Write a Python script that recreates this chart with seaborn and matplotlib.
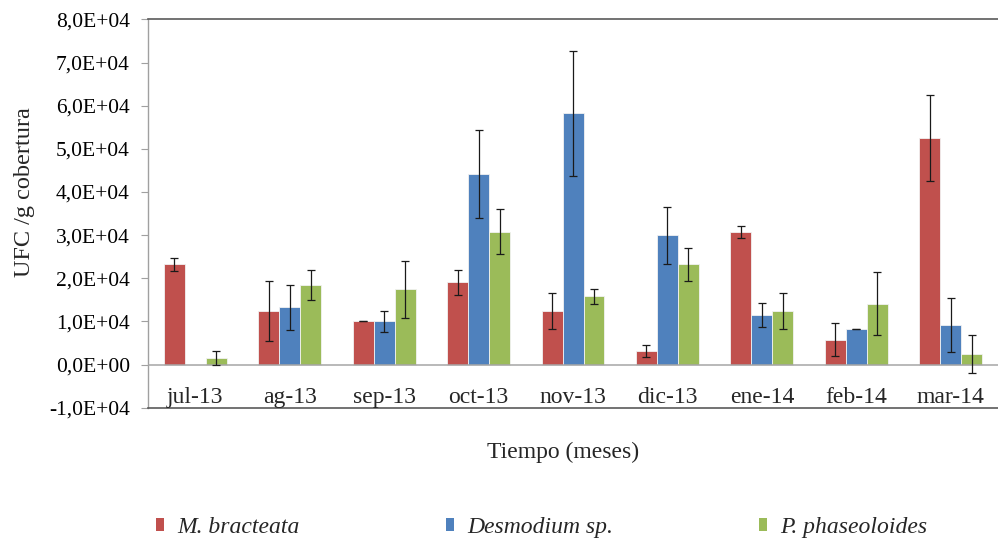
import matplotlib
matplotlib.use("Agg")
import matplotlib.pyplot as plt
import matplotlib.ticker as mticker
import seaborn as sns
import pandas as pd

# ---- data ----
meses = ['jul-13', 'ag-13', 'sep-13', 'oct-13', 'nov-13', 'dic-13', 'ene-14', 'feb-14', 'mar-14']
especies = ['M. bracteata', 'Desmodium sp.', 'P. phaseoloides']
m_bracteata = [23200, 12450, 10000, 19050, 12450, 3170, 30700, 5800, 52500]
m_bracteata_err = [1500, 7000, 0, 2900, 4250, 1400, 1350, 3850, 10000]
desmodium = [0, 13300, 10000, 44100, 58200, 29950, 11500, 8300, 9150]
desmodium_err = [0, 5200, 2500, 10200, 14400, 6550, 2850, 0, 6350]
p_phaseoloides = [1600, 18350, 17500, 30800, 15800, 23200, 12400, 14100, 2500]
p_phaseoloides_err = [1600, 3500, 6600, 5250, 1700, 3800, 4250, 7250, 4400]
colores = ['#C0504D', '#4F81BD', '#9BBB59']

valores = [m_bracteata, desmodium, p_phaseoloides]
errores = [m_bracteata_err, desmodium_err, p_phaseoloides_err]

df = pd.DataFrame({
    'mes': meses * 3,
    'especie': [e for e in especies for _ in meses],
    'ufc': m_bracteata + desmodium + p_phaseoloides,
})

sns.set_style('white')
plt.rcParams['font.family'] = ['Liberation Serif', 'DejaVu Serif']

fig = plt.figure(figsize=(9.98, 5.42), dpi=100)
ax = fig.add_axes([0.1483, 0.2478, 0.8517, 0.7163])

sns.barplot(data=df, x='mes', y='ufc', hue='especie', order=meses, hue_order=especies,
            palette=colores, width=0.667, errorbar=None, saturation=1,
            edgecolor='#f2f2f2', linewidth=0.6, ax=ax)

for cont, errs, vals in zip(ax.containers, errores, valores):
    for bar, e, v in zip(cont, errs, vals):
        if v == 0 and e == 0:
            continue
        x = bar.get_x() + bar.get_width() / 2
        ax.errorbar(x, bar.get_height(), yerr=e, fmt='none', ecolor='#1a1a1a',
                    elinewidth=0.9, capsize=2.8, capthick=0.9, zorder=5)

ax.set_ylim(-10000, 80000)
ax.set_xlim(-0.5, len(meses) - 0.5)
ax.set_yticks(range(-10000, 80001, 10000))
ax.yaxis.set_major_formatter(mticker.FuncFormatter(lambda v, p: f"{v:.1E}".replace('.', ',')))
ax.tick_params(axis='y', which='both', left=True, length=5, width=0.8, color='#a0a0a0',
               labelsize=15.5, pad=8, labelcolor='black')
ax.set_xticks([])
ax.set_xlabel('')
ax.set_ylabel('UFC /g cobertura', fontsize=17.5)
ax.yaxis.set_label_coords(-0.133, 0.555)

# zero line (category axis)
ax.axhline(0, color='#a6a6a6', lw=1.1, zorder=4)

# category labels next to the axis
for i, m in enumerate(meses):
    ax.text(i, -8800, m, ha='center', va='baseline', fontsize=17)

for s in ['top', 'bottom']:
    ax.spines[s].set_color('#5a5a5a')
    ax.spines[s].set_linewidth(1.2)
ax.spines['left'].set_color('#a0a0a0')
ax.spines['left'].set_linewidth(1.0)
ax.spines['right'].set_visible(False)

fig.text(0.564, 1 - 452 / 542, 'Tiempo (meses)', ha='center', va='center', fontsize=17)

handles, labels = ax.get_legend_handles_labels()
ax.get_legend().remove()
leg = fig.legend(handles, labels, loc='center left', bbox_to_anchor=(156 / 998, 1 - 527.5 / 542),
                 ncol=3, frameon=False, prop={'style': 'italic', 'size': 17},
                 handlelength=0.34, handleheight=0.5, handletextpad=0.55,
                 columnspacing=6.2, borderpad=0, borderaxespad=0)
for h in leg.legend_handles:
    h.set_edgecolor('none')

fig.savefig('out.png', dpi=100)
